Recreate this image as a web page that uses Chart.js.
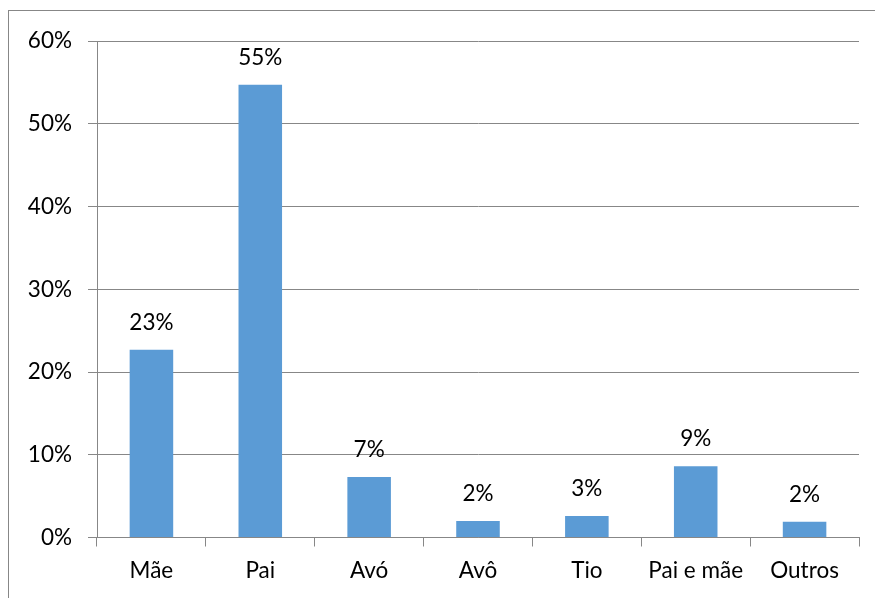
<!DOCTYPE html>
<html>
<head>
<meta charset="utf-8">
<script src="https://cdn.jsdelivr.net/npm/chart.js@4.4.0/dist/chart.umd.min.js"></script>
<style>
  html, body { margin: 0; padding: 0; background: #fff; }
  #wrap { width: 875px; height: 598px; position: relative; }
</style>
</head>
<body>
<div id="wrap"><canvas id="canvas" width="875" height="598"></canvas></div>
<script>
var CATEGORIES = ['Mãe', 'Pai', 'Avó', 'Avô', 'Tio', 'Pai e mãe', 'Outros'];
var VALUES = [22.7, 54.7, 7.3, 2.0, 2.6, 8.6, 1.9];
var Y_TICKS = [0, 10, 20, 30, 40, 50, 60];

var GRAY = '#878787';
var FONT = { family: 'Lato', size: 22.5 };

// outer frame of the chart object
var framePlugin = {
    id: 'frame',
    beforeDraw: function(chart) {
        var ctx = chart.ctx;
        ctx.save();
        ctx.strokeStyle = GRAY;
        ctx.lineWidth = 1;
        ctx.strokeRect(8.5, 10.5, 900, 700);
        ctx.restore();
    }
};

// value labels above each bar
var labelPlugin = {
    id: 'valueLabels',
    afterDatasetsDraw: function(chart) {
        var ctx = chart.ctx;
        var meta = chart.getDatasetMeta(0);
        ctx.save();
        ctx.font = FONT.size + 'px ' + FONT.family;
        ctx.fillStyle = '#000';
        ctx.textAlign = 'center';
        ctx.textBaseline = 'alphabetic';
        meta.data.forEach(function(bar, i) {
            ctx.fillText(Math.round(VALUES[i]) + '%', bar.x, bar.y - 20);
        });
        ctx.restore();
    }
};

window.onload = function() {
    var ctx = document.getElementById('canvas').getContext('2d');
    window.myBar = new Chart(ctx, {
        type: 'bar',
        data: {
            labels: CATEGORIES,
            datasets: [{
                data: VALUES,
                backgroundColor: '#5B9BD5',
                borderWidth: 0,
                categoryPercentage: 1,
                barPercentage: 0.4
            }]
        },
        options: {
            responsive: false,
            animation: false,
            layout: { padding: { top: 41, right: 16, left: 0, bottom: 0 } },
            plugins: {
                legend: { display: false },
                tooltip: { enabled: false }
            },
            scales: {
                x: {
                    grid: {
                        offset: true,
                        drawOnChartArea: false,
                        drawTicks: true,
                        tickLength: 9,
                        color: GRAY
                    },
                    border: { display: true, color: GRAY },
                    ticks: { color: '#000', font: FONT, padding: 11, maxRotation: 0 },
                    afterFit: function(scale) { scale.height = 60.5; }
                },
                y: {
                    min: 0,
                    max: 60,
                    afterBuildTicks: function(scale) {
                        scale.ticks = Y_TICKS.map(function(v) { return { value: v }; });
                    },
                    grid: {
                        color: GRAY,
                        drawTicks: true,
                        tickLength: 9
                    },
                    border: { display: true, color: GRAY },
                    ticks: {
                        color: '#000',
                        font: FONT,
                        padding: 16,
                        callback: function(v) { return v + '%'; }
                    },
                    afterFit: function(scale) { scale.width = 97; }
                }
            }
        },
        plugins: [framePlugin, labelPlugin]
    });
};
</script>
</body>
</html>
